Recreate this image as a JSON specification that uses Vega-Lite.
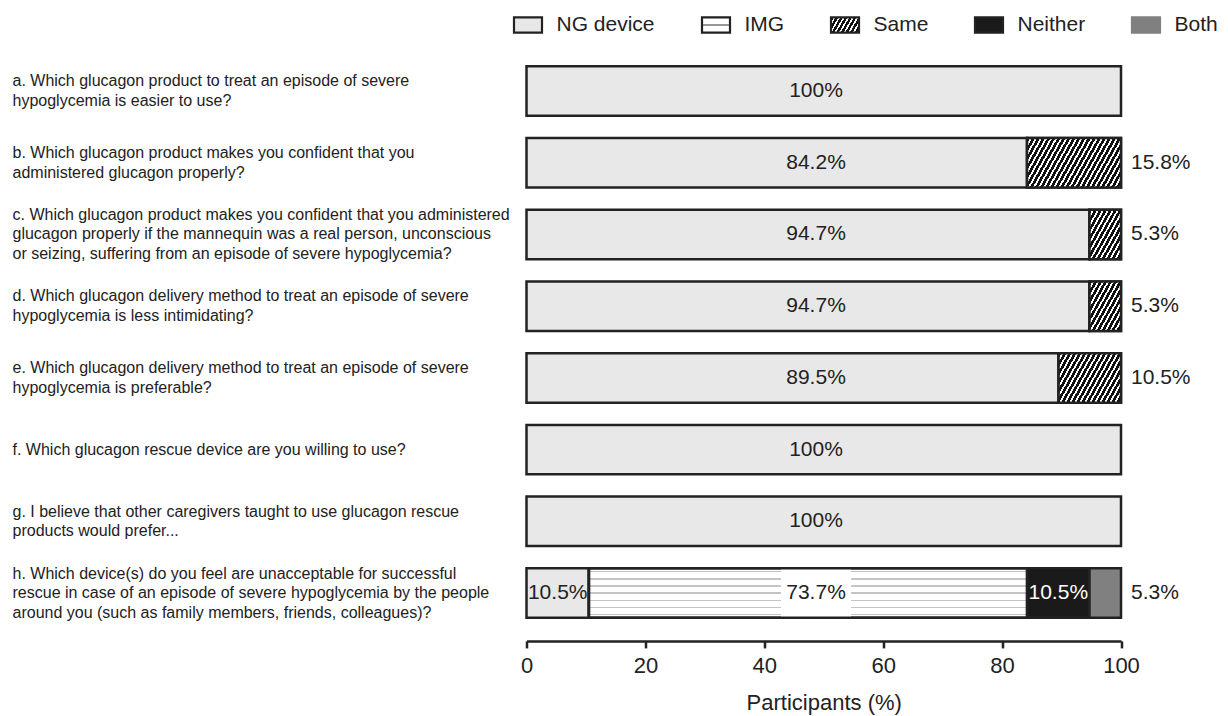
{
"$schema":"https://vega.github.io/schema/vega-lite/v6.json",
"width":594.5,"height":573.7,
"autosize":{"type":"none"},
"padding":{"left":526.5,"top":55.2,"right":107,"bottom":87.1},
"background":"white",
"config":{"view":{"stroke":null},"font":"Liberation Sans","text":{"font":"Liberation Sans"}},
"data":{"values":[
{"q":"a","label":"a. Which glucagon product to treat an episode of severe|hypoglycemia is easier to use?","cat":"NG device","v":100},
{"q":"b","label":"b. Which glucagon product makes you confident that you|administered glucagon properly?","cat":"NG device","v":84.2},
{"q":"b","label":"b. Which glucagon product makes you confident that you|administered glucagon properly?","cat":"Same","v":15.8},
{"q":"c","label":"c. Which glucagon product makes you confident that you administered|glucagon properly if the mannequin was a real person, unconscious|or seizing, suffering from an episode of severe hypoglycemia?","cat":"NG device","v":94.7},
{"q":"c","label":"c. Which glucagon product makes you confident that you administered|glucagon properly if the mannequin was a real person, unconscious|or seizing, suffering from an episode of severe hypoglycemia?","cat":"Same","v":5.3},
{"q":"d","label":"d. Which glucagon delivery method to treat an episode of severe|hypoglycemia is less intimidating?","cat":"NG device","v":94.7},
{"q":"d","label":"d. Which glucagon delivery method to treat an episode of severe|hypoglycemia is less intimidating?","cat":"Same","v":5.3},
{"q":"e","label":"e. Which glucagon delivery method to treat an episode of severe|hypoglycemia is preferable?","cat":"NG device","v":89.5},
{"q":"e","label":"e. Which glucagon delivery method to treat an episode of severe|hypoglycemia is preferable?","cat":"Same","v":10.5},
{"q":"f","label":"f. Which glucagon rescue device are you willing to use?","cat":"NG device","v":100},
{"q":"g","label":"g. I believe that other caregivers taught to use glucagon rescue|products would prefer...","cat":"NG device","v":100},
{"q":"h","label":"h. Which device(s) do you feel are unacceptable for successful|rescue in case of an episode of severe hypoglycemia by the people|around you (such as family members, friends, colleagues)?","cat":"NG device","v":10.5},
{"q":"h","label":"h. Which device(s) do you feel are unacceptable for successful|rescue in case of an episode of severe hypoglycemia by the people|around you (such as family members, friends, colleagues)?","cat":"IMG","v":73.7},
{"q":"h","label":"h. Which device(s) do you feel are unacceptable for successful|rescue in case of an episode of severe hypoglycemia by the people|around you (such as family members, friends, colleagues)?","cat":"Neither","v":10.5},
{"q":"h","label":"h. Which device(s) do you feel are unacceptable for successful|rescue in case of an episode of severe hypoglycemia by the people|around you (such as family members, friends, colleagues)?","cat":"Both","v":5.3}
]},
"transform":[
{"calculate":"indexof(['NG device','IMG','Same','Neither','Both'], datum.cat)","as":"o"},
{"stack":"v","groupby":["label"],"sort":[{"field":"o","order":"ascending"}],"as":["x0","x1"]},
{"calculate":"(datum.x0+datum.x1)/2","as":"xm"},
{"calculate":"datum.v == 100 ? '100%' : format(datum.v, '.1f') + '%'","as":"t"}
],
"encoding":{
"y":{"field":"label","type":"nominal","sort":"ascending","scale":{"paddingInner":0.31,"paddingOuter":0.155},
"axis":{"title":null,"domain":false,"ticks":false,"labelAlign":"left","labelPadding":514.5,"labelFont":"Liberation Sans","labelFontSize":16,"labelColor":"#222","labelLimit":0,"labelExpr":"split(datum.value,'|')","labelLineHeight":19.5,"labelBaseline":"middle",
"labelOffset":{"condition":[{"test":"length(split(datum.value,'|')) === 3","value":-19.5},{"test":"length(split(datum.value,'|')) === 2","value":-9.75}],"value":0}}}
},
"layer":[
{"mark":{"type":"bar","stroke":"#222","strokeWidth":2.5},
"encoding":{
"x":{"field":"x0","type":"quantitative","scale":{"domain":[0,100],"nice":false,"zero":true},
"axis":{"title":"Participants (%)","values":[0,20,40,60,80,100],"grid":false,"offset":12,"labelFlush":false,"domainColor":"#222","domainWidth":2.5,"tickColor":"#222","tickWidth":2.5,"tickSize":7,"labelFont":"Liberation Sans","labelFontSize":22,"labelColor":"#222","labelPadding":8,"titleFont":"Liberation Sans","titleFontSize":22,"titleFontWeight":"normal","titleColor":"#222","titlePadding":16}},
"x2":{"field":"x1"},
"fill":{"field":"cat","type":"nominal",
"scale":{"domain":["NG device","IMG","Same","Neither","Both"],"range":["#e8e8e8",
{"expr":"{gradient:'linear',x1:0,y1:0,x2:0,y2:1,stops:[{offset:0,color:'#fff'},{offset:0.44,color:'#fff'},{offset:0.44,color:'#999'},{offset:0.56,color:'#999'},{offset:0.56,color:'#fff'},{offset:1,color:'#fff'}]}"},
{"expr":"{gradient:'linear',x1:0,y1:0,x2:1.195,y2:0.37,stops:[{offset:0,color:'#111'},{offset:0.075,color:'#111'},{offset:0.075,color:'#fff'},{offset:0.125,color:'#fff'},{offset:0.125,color:'#111'},{offset:0.2,color:'#111'},{offset:0.2,color:'#fff'},{offset:0.25,color:'#fff'},{offset:0.25,color:'#111'},{offset:0.325,color:'#111'},{offset:0.325,color:'#fff'},{offset:0.375,color:'#fff'},{offset:0.375,color:'#111'},{offset:0.45,color:'#111'},{offset:0.45,color:'#fff'},{offset:0.5,color:'#fff'},{offset:0.5,color:'#111'},{offset:0.575,color:'#111'},{offset:0.575,color:'#fff'},{offset:0.625,color:'#fff'},{offset:0.625,color:'#111'},{offset:0.7,color:'#111'},{offset:0.7,color:'#fff'},{offset:0.75,color:'#fff'},{offset:0.75,color:'#111'},{offset:0.825,color:'#111'},{offset:0.825,color:'#fff'},{offset:0.875,color:'#fff'},{offset:0.875,color:'#111'},{offset:0.95,color:'#111'},{offset:0.95,color:'#fff'},{offset:1,color:'#fff'}]}"},
"#1a1a1a","#808080"]},
"legend":{"orient":"none","legendX":-14,"legendY":-46,"direction":"horizontal","columns":5,"title":null,"padding":0,
"symbolType":"M-1,-0.54H1V0.54H-1Z","symbolSize":784,"symbolStrokeWidth":2.2,"symbolStrokeColor":"#222",
"labelFont":"Liberation Sans","labelFontSize":21,"labelColor":"#222","labelOffset":13,"columnPadding":42,
"encode":{"symbols":{"update":{
"stroke":[{"test":"datum.value === 'Both'","value":"#808080"},{"value":"#222"}],
"strokeWidth":{"value":2.2},"opacity":{"value":1}}}}}}
}},
{"transform":[{"filter":"datum.cat === 'Same'"}],
"mark":{"type":"bar","stroke":"#222","strokeWidth":2.5},
"encoding":{"x":{"field":"x0","type":"quantitative"},"x2":{"field":"x1"},
"fill":{"condition":[
{"test":"datum.q === 'b'","value":{"gradient":"linear","x1":0,"y1":0,"x2":1.191,"y2":0.3516,"stops":[
{"offset":0,"color":"#111"},{"offset":0.025,"color":"#111"},{"offset":0.025,"color":"#fff"},{"offset":0.0417,"color":"#fff"},
{"offset":0.0417,"color":"#111"},{"offset":0.0667,"color":"#111"},{"offset":0.0667,"color":"#fff"},{"offset":0.0833,"color":"#fff"},
{"offset":0.0833,"color":"#111"},{"offset":0.1083,"color":"#111"},{"offset":0.1083,"color":"#fff"},{"offset":0.125,"color":"#fff"},
{"offset":0.125,"color":"#111"},{"offset":0.15,"color":"#111"},{"offset":0.15,"color":"#fff"},{"offset":0.1667,"color":"#fff"},
{"offset":0.1667,"color":"#111"},{"offset":0.1917,"color":"#111"},{"offset":0.1917,"color":"#fff"},{"offset":0.2083,"color":"#fff"},
{"offset":0.2083,"color":"#111"},{"offset":0.2333,"color":"#111"},{"offset":0.2333,"color":"#fff"},{"offset":0.25,"color":"#fff"},
{"offset":0.25,"color":"#111"},{"offset":0.275,"color":"#111"},{"offset":0.275,"color":"#fff"},{"offset":0.2917,"color":"#fff"},
{"offset":0.2917,"color":"#111"},{"offset":0.3167,"color":"#111"},{"offset":0.3167,"color":"#fff"},{"offset":0.3333,"color":"#fff"},
{"offset":0.3333,"color":"#111"},{"offset":0.3583,"color":"#111"},{"offset":0.3583,"color":"#fff"},{"offset":0.375,"color":"#fff"},
{"offset":0.375,"color":"#111"},{"offset":0.4,"color":"#111"},{"offset":0.4,"color":"#fff"},{"offset":0.4167,"color":"#fff"},
{"offset":0.4167,"color":"#111"},{"offset":0.4417,"color":"#111"},{"offset":0.4417,"color":"#fff"},{"offset":0.4583,"color":"#fff"},
{"offset":0.4583,"color":"#111"},{"offset":0.4833,"color":"#111"},{"offset":0.4833,"color":"#fff"},{"offset":0.5,"color":"#fff"},
{"offset":0.5,"color":"#111"},{"offset":0.525,"color":"#111"},{"offset":0.525,"color":"#fff"},{"offset":0.5417,"color":"#fff"},
{"offset":0.5417,"color":"#111"},{"offset":0.5667,"color":"#111"},{"offset":0.5667,"color":"#fff"},{"offset":0.5833,"color":"#fff"},
{"offset":0.5833,"color":"#111"},{"offset":0.6083,"color":"#111"},{"offset":0.6083,"color":"#fff"},{"offset":0.625,"color":"#fff"},
{"offset":0.625,"color":"#111"},{"offset":0.65,"color":"#111"},{"offset":0.65,"color":"#fff"},{"offset":0.6667,"color":"#fff"},
{"offset":0.6667,"color":"#111"},{"offset":0.6917,"color":"#111"},{"offset":0.6917,"color":"#fff"},{"offset":0.7083,"color":"#fff"},
{"offset":0.7083,"color":"#111"},{"offset":0.7333,"color":"#111"},{"offset":0.7333,"color":"#fff"},{"offset":0.75,"color":"#fff"},
{"offset":0.75,"color":"#111"},{"offset":0.775,"color":"#111"},{"offset":0.775,"color":"#fff"},{"offset":0.7917,"color":"#fff"},
{"offset":0.7917,"color":"#111"},{"offset":0.8167,"color":"#111"},{"offset":0.8167,"color":"#fff"},{"offset":0.8333,"color":"#fff"},
{"offset":0.8333,"color":"#111"},{"offset":0.8583,"color":"#111"},{"offset":0.8583,"color":"#fff"},{"offset":0.875,"color":"#fff"},
{"offset":0.875,"color":"#111"},{"offset":0.9,"color":"#111"},{"offset":0.9,"color":"#fff"},{"offset":0.9167,"color":"#fff"},
{"offset":0.9167,"color":"#111"},{"offset":0.9417,"color":"#111"},{"offset":0.9417,"color":"#fff"},{"offset":0.9583,"color":"#fff"},
{"offset":0.9583,"color":"#111"},{"offset":0.9833,"color":"#111"},{"offset":0.9833,"color":"#fff"},{"offset":1,"color":"#fff"}]}},
{"test":"datum.q === 'e'","value":{"gradient":"linear","x1":0,"y1":0,"x2":1.2065,"y2":0.5357,"stops":[
{"offset":0,"color":"#111"},{"offset":0.0333,"color":"#111"},{"offset":0.0333,"color":"#fff"},{"offset":0.0556,"color":"#fff"},
{"offset":0.0556,"color":"#111"},{"offset":0.0889,"color":"#111"},{"offset":0.0889,"color":"#fff"},{"offset":0.1111,"color":"#fff"},
{"offset":0.1111,"color":"#111"},{"offset":0.1444,"color":"#111"},{"offset":0.1444,"color":"#fff"},{"offset":0.1667,"color":"#fff"},
{"offset":0.1667,"color":"#111"},{"offset":0.2,"color":"#111"},{"offset":0.2,"color":"#fff"},{"offset":0.2222,"color":"#fff"},
{"offset":0.2222,"color":"#111"},{"offset":0.2556,"color":"#111"},{"offset":0.2556,"color":"#fff"},{"offset":0.2778,"color":"#fff"},
{"offset":0.2778,"color":"#111"},{"offset":0.3111,"color":"#111"},{"offset":0.3111,"color":"#fff"},{"offset":0.3333,"color":"#fff"},
{"offset":0.3333,"color":"#111"},{"offset":0.3667,"color":"#111"},{"offset":0.3667,"color":"#fff"},{"offset":0.3889,"color":"#fff"},
{"offset":0.3889,"color":"#111"},{"offset":0.4222,"color":"#111"},{"offset":0.4222,"color":"#fff"},{"offset":0.4444,"color":"#fff"},
{"offset":0.4444,"color":"#111"},{"offset":0.4778,"color":"#111"},{"offset":0.4778,"color":"#fff"},{"offset":0.5,"color":"#fff"},
{"offset":0.5,"color":"#111"},{"offset":0.5333,"color":"#111"},{"offset":0.5333,"color":"#fff"},{"offset":0.5556,"color":"#fff"},
{"offset":0.5556,"color":"#111"},{"offset":0.5889,"color":"#111"},{"offset":0.5889,"color":"#fff"},{"offset":0.6111,"color":"#fff"},
{"offset":0.6111,"color":"#111"},{"offset":0.6444,"color":"#111"},{"offset":0.6444,"color":"#fff"},{"offset":0.6667,"color":"#fff"},
{"offset":0.6667,"color":"#111"},{"offset":0.7,"color":"#111"},{"offset":0.7,"color":"#fff"},{"offset":0.7222,"color":"#fff"},
{"offset":0.7222,"color":"#111"},{"offset":0.7556,"color":"#111"},{"offset":0.7556,"color":"#fff"},{"offset":0.7778,"color":"#fff"},
{"offset":0.7778,"color":"#111"},{"offset":0.8111,"color":"#111"},{"offset":0.8111,"color":"#fff"},{"offset":0.8333,"color":"#fff"},
{"offset":0.8333,"color":"#111"},{"offset":0.8667,"color":"#111"},{"offset":0.8667,"color":"#fff"},{"offset":0.8889,"color":"#fff"},
{"offset":0.8889,"color":"#111"},{"offset":0.9222,"color":"#111"},{"offset":0.9222,"color":"#fff"},{"offset":0.9444,"color":"#fff"},
{"offset":0.9444,"color":"#111"},{"offset":0.9778,"color":"#111"},{"offset":0.9778,"color":"#fff"},{"offset":1,"color":"#fff"}]}}],
"value":{"gradient":"linear","x1":0,"y1":0,"x2":1.06,"y2":0.932,"stops":[
{"offset":0,"color":"#111"},{"offset":0.05,"color":"#111"},{"offset":0.05,"color":"#fff"},{"offset":0.0833,"color":"#fff"},
{"offset":0.0833,"color":"#111"},{"offset":0.1333,"color":"#111"},{"offset":0.1333,"color":"#fff"},{"offset":0.1667,"color":"#fff"},
{"offset":0.1667,"color":"#111"},{"offset":0.2167,"color":"#111"},{"offset":0.2167,"color":"#fff"},{"offset":0.25,"color":"#fff"},
{"offset":0.25,"color":"#111"},{"offset":0.3,"color":"#111"},{"offset":0.3,"color":"#fff"},{"offset":0.3333,"color":"#fff"},
{"offset":0.3333,"color":"#111"},{"offset":0.3833,"color":"#111"},{"offset":0.3833,"color":"#fff"},{"offset":0.4167,"color":"#fff"},
{"offset":0.4167,"color":"#111"},{"offset":0.4667,"color":"#111"},{"offset":0.4667,"color":"#fff"},{"offset":0.5,"color":"#fff"},
{"offset":0.5,"color":"#111"},{"offset":0.55,"color":"#111"},{"offset":0.55,"color":"#fff"},{"offset":0.5833,"color":"#fff"},
{"offset":0.5833,"color":"#111"},{"offset":0.6333,"color":"#111"},{"offset":0.6333,"color":"#fff"},{"offset":0.6667,"color":"#fff"},
{"offset":0.6667,"color":"#111"},{"offset":0.7167,"color":"#111"},{"offset":0.7167,"color":"#fff"},{"offset":0.75,"color":"#fff"},
{"offset":0.75,"color":"#111"},{"offset":0.8,"color":"#111"},{"offset":0.8,"color":"#fff"},{"offset":0.8333,"color":"#fff"},
{"offset":0.8333,"color":"#111"},{"offset":0.8833,"color":"#111"},{"offset":0.8833,"color":"#fff"},{"offset":0.9167,"color":"#fff"},
{"offset":0.9167,"color":"#111"},{"offset":0.9667,"color":"#111"},{"offset":0.9667,"color":"#fff"},{"offset":1,"color":"#fff"}]}}
}},
{"transform":[{"filter":"datum.cat === 'IMG'"}],
"mark":{"type":"bar","stroke":"#222","strokeWidth":2.5,
"fill":{"gradient":"linear","x1":0,"y1":0,"x2":0,"y2":1,"stops":[
{"offset":0,"color":"#fff"},{"offset":0.0594,"color":"#fff"},{"offset":0.0594,"color":"#c4c4c4"},{"offset":0.0834,"color":"#c4c4c4"},{"offset":0.0834,"color":"#fff"},
{"offset":0.2023,"color":"#fff"},{"offset":0.2023,"color":"#c4c4c4"},{"offset":0.2263,"color":"#c4c4c4"},{"offset":0.2263,"color":"#fff"},
{"offset":0.3451,"color":"#fff"},{"offset":0.3451,"color":"#c4c4c4"},{"offset":0.3691,"color":"#c4c4c4"},{"offset":0.3691,"color":"#fff"},
{"offset":0.488,"color":"#fff"},{"offset":0.488,"color":"#c4c4c4"},{"offset":0.512,"color":"#c4c4c4"},{"offset":0.512,"color":"#fff"},
{"offset":0.6309,"color":"#fff"},{"offset":0.6309,"color":"#c4c4c4"},{"offset":0.6549,"color":"#c4c4c4"},{"offset":0.6549,"color":"#fff"},
{"offset":0.7737,"color":"#fff"},{"offset":0.7737,"color":"#c4c4c4"},{"offset":0.7977,"color":"#c4c4c4"},{"offset":0.7977,"color":"#fff"},
{"offset":0.9166,"color":"#fff"},{"offset":0.9166,"color":"#c4c4c4"},{"offset":0.9406,"color":"#c4c4c4"},{"offset":0.9406,"color":"#fff"},
{"offset":1,"color":"#fff"}]}},
"encoding":{"x":{"field":"x0","type":"quantitative"},"x2":{"field":"x1"}}},
{"transform":[{"filter":"datum.cat === 'IMG'"}],
"mark":{"type":"bar","fill":"#fff","stroke":null},
"encoding":{"x":{"datum":42.8,"type":"quantitative"},"x2":{"datum":54.6}}},
{"transform":[{"filter":"datum.cat === 'IMG'"}],
"mark":{"type":"bar","fill":"transparent","stroke":"#222","strokeWidth":2.5},
"encoding":{"x":{"field":"x0","type":"quantitative"},"x2":{"field":"x1"}}},
{"transform":[{"filter":"(datum.cat === 'NG device' && datum.q !== 'h') || datum.cat === 'IMG'"}],
"mark":{"type":"text","fontSize":21,"color":"#222","baseline":"middle","align":"center"},
"encoding":{"x":{"datum":48.7,"type":"quantitative"},"text":{"field":"t"}}},
{"transform":[{"filter":"datum.q === 'h' && (datum.cat === 'NG device' || datum.cat === 'Neither')"}],
"mark":{"type":"text","fontSize":21,"baseline":"middle","align":"center"},
"encoding":{"x":{"field":"xm","type":"quantitative"},"text":{"field":"t"},
"color":{"condition":{"test":"datum.cat === 'Neither'","value":"#ffffff"},"value":"#222"}}},
{"transform":[{"filter":"datum.cat === 'Same' || datum.cat === 'Both'"}],
"mark":{"type":"text","fontSize":21,"color":"#222","baseline":"middle","align":"left","dx":10},
"encoding":{"x":{"field":"x1","type":"quantitative"},"text":{"field":"t"}}}
]
}
